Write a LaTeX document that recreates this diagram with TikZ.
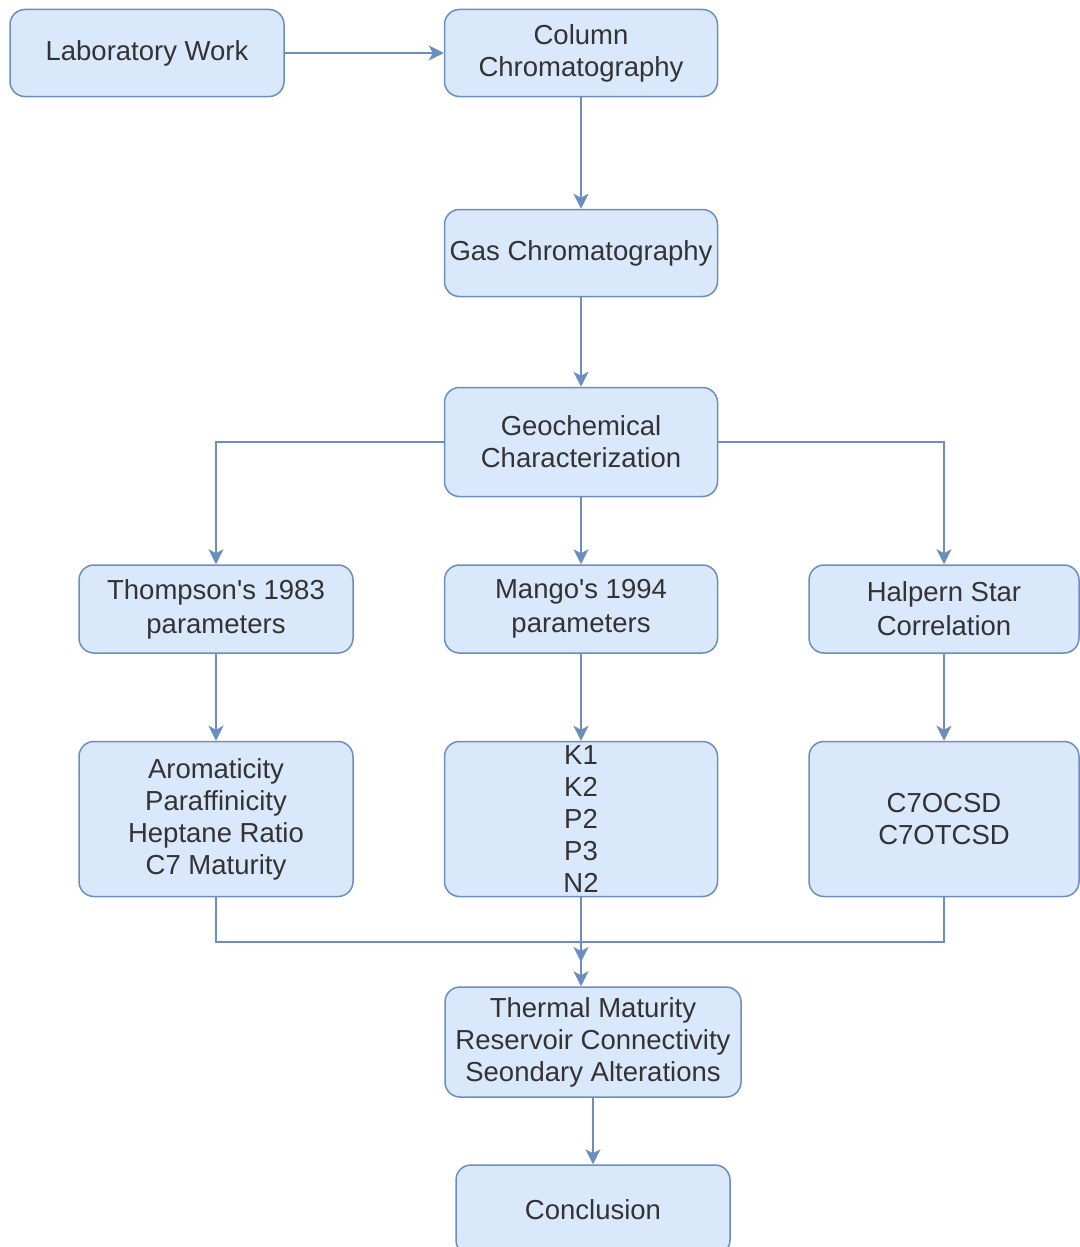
\documentclass[tikz,border=0pt]{standalone}
\usepackage{fontspec}
\setmainfont{Liberation Sans}
\usetikzlibrary{arrows.meta}

\definecolor{boxfill}{HTML}{DAE8FC}
\definecolor{boxline}{HTML}{6C8EBF}
\definecolor{boxtext}{HTML}{333333}

\tikzset{
  stage/.style={draw=boxline, fill=boxfill, line width=1.5pt, rounded corners=15pt,
    text=boxtext, align=center, inner sep=0pt,
    font=\fontsize{27.5}{32}\selectfont},
  link/.style={draw=boxline, line width=1.5pt,
    -{Stealth[length=15pt,width=15pt,inset=4pt]}},
  wire/.style={draw=boxline, line width=1.5pt}
}

\begin{document}
\begin{tikzpicture}[x=1pt, y=-1pt]
\useasboundingbox[fill=white] (0,0) rectangle (1079,1247);

% first row
\node[stage, minimum width=274pt, minimum height=87pt] (lab) at (147,53) {Laboratory Work};
\node[stage, minimum width=273pt, minimum height=87pt] (col) at (581,53) {Column\\Chromatography};
\node[stage, minimum width=273pt, minimum height=87pt] (gas) at (581,253) {Gas Chromatography};
\node[stage, minimum width=273pt, minimum height=109pt] (geo) at (581,442) {Geochemical\\Characterization};

% three branches
\node[stage, minimum width=274pt, minimum height=88pt] (thom) at (216,609) {Thompson\textquotesingle s 1983\\[2pt]parameters};
\node[stage, minimum width=273pt, minimum height=88pt] (mango) at (581,609) {Mango\textquotesingle s 1994\\[2pt]parameters};
\node[stage, minimum width=270pt, minimum height=88pt] (halp) at (944,609) {Halpern Star\\[2pt]Correlation};

\node[stage, minimum width=274pt, minimum height=155pt] (arom) at (216,819) {Aromaticity\\Paraffinicity\\Heptane Ratio\\C7 Maturity};
\node[stage, minimum width=273pt, minimum height=155pt] (kset) at (581,819) {K1\\K2\\P2\\P3\\N2};
\node[stage, minimum width=270pt, minimum height=155pt] (csd) at (944,819) {C7OCSD\\C7OTCSD};

% results
\node[stage, minimum width=296pt, minimum height=110pt] (therm) at (593,1042) {Thermal Maturity\\Reservoir Connectivity\\Seondary Alterations};
\node[stage, minimum width=274pt, minimum height=90pt] (concl) at (593,1210) {Conclusion};

\coordinate (join) at (581,942);
\coordinate (joinend) at (581,962);

\draw[link] (lab) -- (col);
\draw[link] (col) -- (gas);
\draw[link] (gas) -- (geo);
\draw[link] (geo) -- (mango);
\draw[link] (geo.west) -| (thom.north);
\draw[link] (geo.east) -| (halp.north);
\draw[link] (thom) -- (arom);
\draw[link] (mango) -- (kset);
\draw[link] (halp) -- (csd);
\draw[wire] (arom.south) |- (join);
\draw[wire] (csd.south) |- (join);
\draw[link] (join) -- (joinend);
\draw[link] (kset.south) -- (kset.south |- therm.north);
\draw[link] (therm) -- (concl);
\end{tikzpicture}
\end{document}
